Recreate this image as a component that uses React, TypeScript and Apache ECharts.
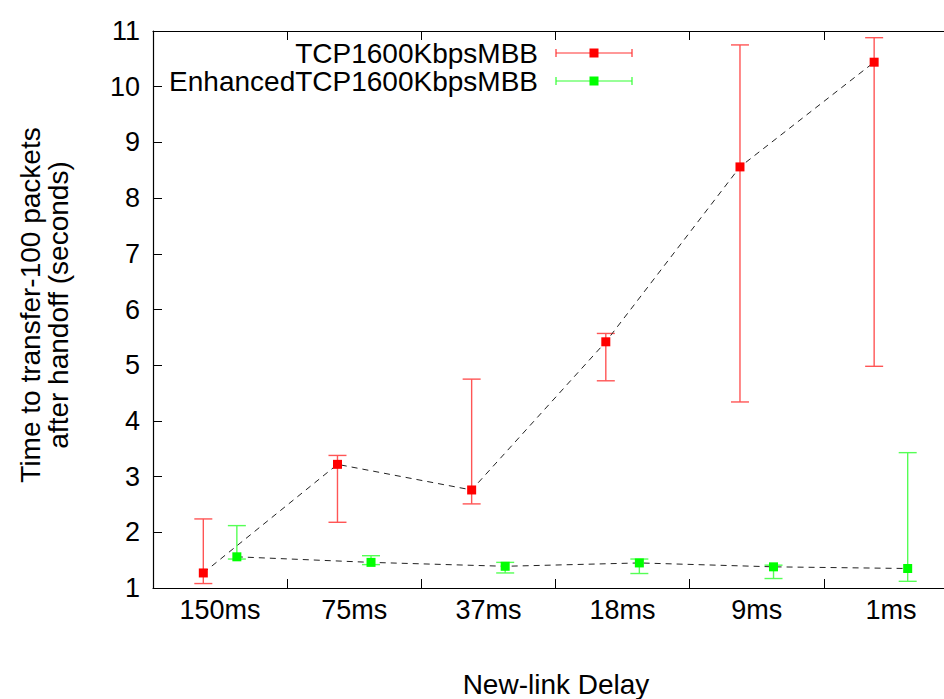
import { useEffect, useRef } from 'react';
import * as echarts from 'echarts';

const categories = ['150ms', '75ms', '37ms', '18ms', '9ms', '1ms'];
const tcpMean = [1.27, 3.22, 2.76, 5.42, 8.56, 10.44];
const tcpLow = [1.08, 2.18, 2.51, 4.72, 4.34, 4.98];
const tcpHigh = [2.24, 3.38, 4.75, 5.57, 10.75, 10.88];
const enhMean = [1.56, 1.46, 1.39, 1.45, 1.38, 1.35];
const enhLow = [1.52, 1.42, 1.27, 1.26, 1.17, 1.12];
const enhHigh = [2.12, 1.58, 1.46, 1.52, 1.41, 3.43];
const seriesNames = ['TCP1600KbpsMBB', 'EnhancedTCP1600KbpsMBB'];
const yMin = 1;
const yMax = 11;
const yInterval = 1;

const FONT = "'Liberation Sans', Arial, Helvetica, sans-serif";
const OFFSET = 0.125;

function buildPoints(mean: number[], low: number[], high: number[], shift: number) {
  return mean.map((m, i) => [i + 0.5 + shift, m, low[i], high[i]]);
}

function errorSeries(data: number[][], color: string) {
  return {
    type: 'custom',
    xAxisIndex: 1,
    yAxisIndex: 0,
    z: 2,
    encode: { x: 0, y: [2, 3] },
    data,
    renderItem: (_params: any, api: any) => {
      const x = api.value(0);
      const lo = api.coord([x, api.value(2)]);
      const hi = api.coord([x, api.value(3)]);
      const hw = 9;
      const style = { stroke: color, lineWidth: 1.4 };
      return {
        type: 'group',
        children: [
          { type: 'line', shape: { x1: lo[0], y1: lo[1], x2: hi[0], y2: hi[1] }, style },
          { type: 'line', shape: { x1: lo[0] - hw, y1: lo[1], x2: lo[0] + hw, y2: lo[1] }, style },
          { type: 'line', shape: { x1: hi[0] - hw, y1: hi[1], x2: hi[0] + hw, y2: hi[1] }, style },
        ],
      };
    },
  };
}

function lineSeries(name: string, data: number[][], color: string) {
  return {
    type: 'line',
    name,
    xAxisIndex: 1,
    yAxisIndex: 0,
    z: 3,
    data: data.map((d) => [d[0], d[1]]),
    symbol: 'rect',
    symbolSize: 9,
    showSymbol: true,
    itemStyle: { color },
    lineStyle: { color: '#222', width: 1, type: [6, 5] },
  };
}

function legendRow(y: number, label: string, barColor: string, markColor: string) {
  const x1 = 556;
  const x2 = 632;
  const xm = 594;
  const st = { stroke: barColor, lineWidth: 1.2 };
  return [
    {
      type: 'text',
      x: 538,
      y,
      style: { text: label, fontSize: 28, fontFamily: FONT, fill: '#000', align: 'right', verticalAlign: 'middle' },
    },
    { type: 'line', shape: { x1, y1: y, x2, y2: y }, style: st },
    { type: 'line', shape: { x1, y1: y - 4, x2: x1, y2: y + 4 }, style: st },
    { type: 'line', shape: { x1: x2, y1: y - 4, x2, y2: y + 4 }, style: st },
    { type: 'rect', shape: { x: xm - 4.5, y: y - 4.5, width: 9, height: 9 }, style: { fill: markColor } },
  ];
}

export default function App() {
  const ref = useRef<HTMLDivElement>(null);
  useEffect(() => {
    if (!ref.current) return;
    const chart = echarts.init(ref.current, null, { renderer: 'svg' });
    const tcpPts = buildPoints(tcpMean, tcpLow, tcpHigh, -OFFSET);
    const enhPts = buildPoints(enhMean, enhLow, enhHigh, OFFSET);
    const axisLine = { show: true, lineStyle: { color: '#000', width: 1.2 } };
    const tick = { show: true, inside: true, length: 9, lineStyle: { color: '#000', width: 1 } };
    chart.setOption({
      animation: false,
      backgroundColor: '#fff',
      grid: { left: 153, top: 31, right: 22, bottom: 111, containLabel: false },
      xAxis: [
        {
          type: 'category',
          data: categories,
          position: 'bottom',
          boundaryGap: true,
          axisLine,
          axisTick: tick,
          axisLabel: { fontSize: 27, fontFamily: FONT, color: '#000', margin: 8 },
          splitLine: { show: false },
        },
        { type: 'value', min: 0, max: categories.length, show: false },
        {
          type: 'category',
          data: categories,
          position: 'top',
          boundaryGap: true,
          axisLine,
          axisTick: tick,
          axisLabel: { show: false },
          splitLine: { show: false },
        },
      ],
      yAxis: [
        {
          type: 'value',
          min: yMin,
          max: yMax,
          interval: yInterval,
          axisLine,
          axisTick: tick,
          axisLabel: { fontSize: 27, fontFamily: FONT, color: '#000', margin: 13 },
          splitLine: { show: false },
        },
      ],
      series: [
        errorSeries(tcpPts, '#ff5555'),
        errorSeries(enhPts, '#55ff55'),
        lineSeries(seriesNames[0], tcpPts, '#ff0000'),
        lineSeries(seriesNames[1], enhPts, '#00ff00'),
      ],
      graphic: [
        ...legendRow(53, seriesNames[0], '#ff3333', '#ff0000'),
        ...legendRow(81, seriesNames[1], '#33ff33', '#00ff00'),
        {
          type: 'text',
          x: 44,
          y: 305,
          rotation: Math.PI / 2,
          style: {
            text: 'Time to transfer-100 packets\nafter handoff (seconds)',
            fontSize: 28,
            lineHeight: 28,
            fontFamily: FONT,
            fill: '#000',
            align: 'center',
            verticalAlign: 'middle',
          },
        },
        {
          type: 'text',
          x: 556,
          y: 684,
          style: {
            text: 'New-link Delay',
            fontSize: 28,
            fontFamily: FONT,
            fill: '#000',
            align: 'center',
            verticalAlign: 'middle',
          },
        },
      ],
    });
    return () => chart.dispose();
  }, []);
  return (
    <div style={{ position: 'absolute', left: 0, top: 0, width: 944, height: 699, overflow: 'hidden', background: '#fff' }}>
      <div ref={ref} style={{ position: 'absolute', left: 0, top: 0, width: 980, height: 699 }} />
    </div>
  );
}
